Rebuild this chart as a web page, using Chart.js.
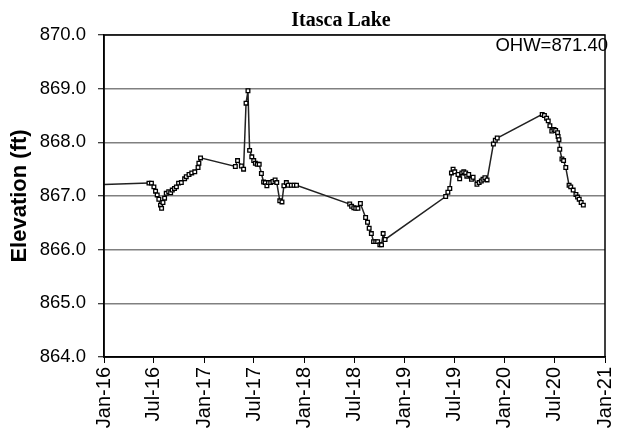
<!DOCTYPE html>
<html>
<head>
<meta charset="utf-8">
<script src="https://cdn.jsdelivr.net/npm/chart.js@4.4.1/dist/chart.umd.min.js"></script>
<style>
html,body{margin:0;padding:0;background:#fff;}
canvas{display:block;}
</style>
</head>
<body>
<canvas id="c" width="624" height="441"></canvas>
<script>
const chartTitle = 'Itasca Lake';
const yAxisTitle = 'Elevation (ft)';
const ohwLabel = 'OHW=871.40';

const dates = [
'2015-09-22',
'2016-06-13','2016-06-22','2016-07-01','2016-07-07','2016-07-13','2016-07-19','2016-07-25','2016-07-29',
'2016-08-03','2016-08-09','2016-08-15','2016-08-24','2016-08-31','2016-09-06','2016-09-14','2016-09-21',
'2016-09-29','2016-10-09','2016-10-21','2016-10-27','2016-11-06','2016-11-16','2016-11-27','2016-12-09',
'2016-12-12','2016-12-18',
'2017-04-24','2017-05-02','2017-05-16','2017-05-24','2017-06-02','2017-06-09','2017-06-15','2017-06-23',
'2017-06-30','2017-07-06','2017-07-13','2017-07-20','2017-07-28','2017-08-05','2017-08-11','2017-08-17',
'2017-08-23','2017-08-31','2017-09-08','2017-09-16','2017-09-22','2017-10-03','2017-10-11','2017-10-18',
'2017-10-27','2017-11-03','2017-11-14','2017-11-24','2017-12-03',
'2018-06-15','2018-06-22','2018-06-30','2018-07-07','2018-07-15','2018-07-24','2018-08-12','2018-08-19',
'2018-08-25','2018-09-02','2018-09-10','2018-09-18','2018-09-25','2018-10-03','2018-10-09','2018-10-15',
'2018-10-22',
'2019-05-31','2019-06-08','2019-06-15','2019-06-21','2019-06-27','2019-07-03','2019-07-15','2019-07-21',
'2019-07-29','2019-08-05','2019-08-12','2019-08-16','2019-08-23','2019-09-02','2019-09-08','2019-09-22',
'2019-09-30','2019-10-08','2019-10-14','2019-10-21','2019-10-29','2019-11-21','2019-11-28','2019-12-05',
'2020-05-17','2020-05-25','2020-06-02','2020-06-08','2020-06-14','2020-06-21','2020-06-29','2020-07-05',
'2020-07-12','2020-07-14','2020-07-17','2020-07-20','2020-07-28','2020-08-03','2020-08-11','2020-08-23',
'2020-08-29','2020-09-07','2020-09-17','2020-09-23','2020-09-29','2020-10-06','2020-10-14'
];
const elevations = [
867.20,
867.24,867.24,867.17,867.09,867.02,866.94,866.83,866.77,
866.88,866.96,867.05,867.08,867.06,867.11,867.14,867.17,
867.24,867.25,867.32,867.36,867.40,867.43,867.45,867.53,
867.61,867.71,
867.55,867.66,867.56,867.50,868.73,868.96,867.85,867.73,
867.66,867.61,867.59,867.59,867.42,867.26,867.25,867.19,
867.25,867.25,867.27,867.30,867.25,866.91,866.89,867.19,
867.25,867.20,867.20,867.20,867.20,
866.85,866.81,866.78,866.77,866.77,866.86,866.60,866.51,
866.40,866.30,866.15,866.15,866.15,866.09,866.09,866.30,
866.19,
866.99,867.07,867.14,867.43,867.50,867.45,867.40,867.32,
867.43,867.45,867.43,867.37,867.40,867.31,867.35,867.22,
867.25,867.28,867.31,867.34,867.30,867.97,868.04,868.08,
868.52,868.50,868.45,868.40,868.31,868.21,868.24,868.22,
868.18,868.11,868.05,867.87,867.69,867.66,867.53,867.20,
867.17,867.11,867.03,866.98,866.94,866.88,866.83
];
const xTickDates = ['2016-01-01','2016-07-01','2017-01-01','2017-07-01','2018-01-01','2018-07-01',
'2019-01-01','2019-07-01','2020-01-01','2020-07-01','2021-01-01'];
const xTickLabels = ['Jan-16','Jul-16','Jan-17','Jul-17','Jan-18','Jul-18','Jan-19','Jul-19','Jan-20','Jul-20','Jan-21'];
const yMin = 864, yMax = 870, yStep = 1;

function toDay(s){ const p = s.split('-').map(Number); return Date.UTC(p[0], p[1]-1, p[2]) / 86400000; }

const points = dates.map((d,i)=>({x: toDay(d), y: elevations[i]}));

const FONT = "'Liberation Sans', Arial, sans-serif";

const decor = {
  id: 'decor',
  afterDraw(chart){
    const {ctx, chartArea: a} = chart;
    ctx.save();
    ctx.strokeStyle = '#000';
    ctx.lineWidth = 1.5;
    ctx.strokeRect(a.left, a.top, a.right - a.left, a.bottom - a.top);
    ctx.fillStyle = '#000';
    ctx.font = "18.5px " + FONT;
    ctx.textAlign = 'right';
    ctx.textBaseline = 'middle';
    ctx.fillText(ohwLabel, a.right + 3, a.top + 11);
    ctx.font = "bold 20px 'Liberation Serif', 'Times New Roman', serif";
    ctx.textAlign = 'center';
    ctx.textBaseline = 'alphabetic';
    ctx.fillText(chartTitle, 341, 26);
    ctx.restore();
  }
};

new Chart(document.getElementById('c'), {
  type: 'line',
  data: {
    datasets: [{
      data: points,
      borderColor: '#222',
      borderWidth: 1.5,
      tension: 0,
      pointStyle: 'rect',
      pointRadius: 2.6,
      pointBackgroundColor: '#fff',
      pointBorderColor: '#000',
      pointBorderWidth: 1.3
    }]
  },
  options: {
    responsive: false,
    animation: false,
    layout: { padding: { top: 35, right: 19, left: 0, bottom: 0 } },
    plugins: { legend: { display: false }, title: { display: false }, tooltip: { enabled: false } },
    scales: {
      x: {
        type: 'linear',
        min: toDay(xTickDates[0]),
        max: toDay(xTickDates[xTickDates.length-1]),
        afterBuildTicks(scale){ scale.ticks = xTickDates.map(d=>({value: toDay(d)})); },
        afterFit(scale){ scale.height = 84; scale.paddingLeft = 0; scale.paddingRight = 0; },
        grid: { drawOnChartArea: false, drawTicks: true, tickLength: 6, color: '#000', tickWidth: 1 },
        border: { display: true, color: '#000', width: 1.5 },
        ticks: {
          autoSkip: false,
          minRotation: 90, maxRotation: 90,
          padding: 4,
          color: '#000',
          font: { family: FONT, size: 20 },
          callback(value, index){ return xTickLabels[index]; }
        }
      },
      y: {
        min: yMin, max: yMax,
        afterFit(scale){ scale.width = 104; scale.paddingTop = 0; scale.paddingBottom = 0; },
        grid: { color: '#808080', lineWidth: 1.5, drawTicks: true, tickLength: 6, tickColor: '#000', tickWidth: 1 },
        border: { display: true, color: '#000', width: 1.5 },
        ticks: {
          stepSize: yStep,
          padding: 12,
          color: '#000',
          font: { family: FONT, size: 18.5 },
          callback(v){ return Number(v).toFixed(1); }
        },
        title: {
          display: true,
          text: yAxisTitle,
          color: '#000',
          font: { family: FONT, size: 22, weight: 'bold' },
          padding: { top: 7, bottom: 0 }
        }
      }
    }
  },
  plugins: [decor]
});
</script>
</body>
</html>
